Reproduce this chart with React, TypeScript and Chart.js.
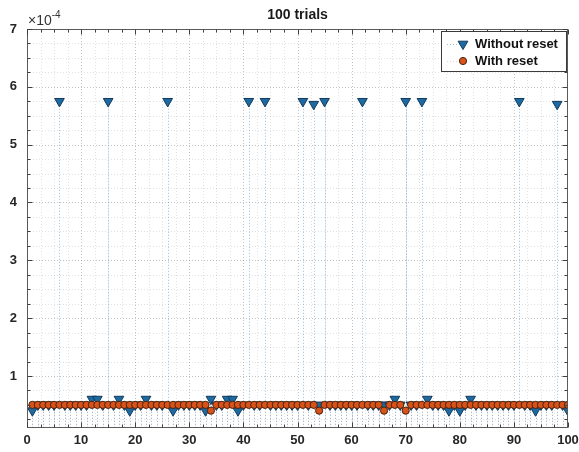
import React, { useEffect, useRef } from 'react';
import { Chart, registerables } from 'chart.js';
import { drawPoint } from 'chart.js/helpers';

Chart.register(...registerables);

// trial index 1..100
const trials: number[] = Array.from({ length: 100 }, (_, i) => i + 1);

// values in units of 1e-4
const withoutReset: number[] = [
  0.4, 0.5, 0.5, 0.5, 0.5, 5.75, 0.5, 0.5, 0.5, 0.5,
  0.5, 0.6, 0.6, 0.5, 5.75, 0.5, 0.6, 0.5, 0.4, 0.5,
  0.5, 0.6, 0.5, 0.5, 0.5, 5.75, 0.4, 0.5, 0.5, 0.5,
  0.5, 0.5, 0.4, 0.6, 0.5, 0.5, 0.6, 0.6, 0.4, 0.5,
  5.75, 0.5, 0.5, 5.75, 0.5, 0.5, 0.5, 0.5, 0.5, 0.5,
  5.75, 0.5, 5.7, 0.5, 5.75, 0.5, 0.5, 0.5, 0.5, 0.5,
  0.5, 5.75, 0.5, 0.5, 0.5, 0.5, 0.5, 0.6, 0.5, 5.75,
  0.5, 0.5, 5.75, 0.6, 0.5, 0.5, 0.5, 0.4, 0.5, 0.4,
  0.5, 0.6, 0.5, 0.5, 0.5, 0.5, 0.5, 0.5, 0.5, 0.5,
  5.75, 0.5, 0.5, 0.4, 0.5, 0.5, 0.5, 5.7, 0.5, 0.4,
];

const withReset: number[] = [
  0.5, 0.5, 0.5, 0.5, 0.5, 0.5, 0.5, 0.5, 0.5, 0.5,
  0.5, 0.5, 0.5, 0.5, 0.5, 0.5, 0.5, 0.5, 0.5, 0.5,
  0.5, 0.5, 0.5, 0.5, 0.5, 0.5, 0.5, 0.5, 0.5, 0.5,
  0.5, 0.5, 0.5, 0.4, 0.5, 0.5, 0.5, 0.5, 0.5, 0.5,
  0.5, 0.5, 0.5, 0.5, 0.5, 0.5, 0.5, 0.5, 0.5, 0.5,
  0.5, 0.5, 0.5, 0.4, 0.5, 0.5, 0.5, 0.5, 0.5, 0.5,
  0.5, 0.5, 0.5, 0.5, 0.5, 0.4, 0.5, 0.5, 0.5, 0.4,
  0.5, 0.5, 0.5, 0.5, 0.5, 0.5, 0.5, 0.5, 0.5, 0.5,
  0.5, 0.5, 0.5, 0.5, 0.5, 0.5, 0.5, 0.5, 0.5, 0.5,
  0.5, 0.5, 0.5, 0.5, 0.5, 0.5, 0.5, 0.5, 0.5, 0.5,
];

const xTickLabels: number[] = [0, 10, 20, 30, 40, 50, 60, 70, 80, 90, 100];
const yTickLabels: number[] = [1, 2, 3, 4, 5, 6, 7];
const seriesLabels: string[] = ['Without reset', 'With reset'];
const chartTitle = '100 trials';
const exponentBase = '\u00d710';
const exponentPower = '-4';
const stemBaseline = 0;

const X_MIN = 0, X_MAX = 100, X_MINOR = 2.5;
const Y_MIN = 0.1, Y_MAX = 7, Y_MINOR = 0.25;

const BLUE_FILL = '#1c6aa2';
const BLUE_EDGE = '#15395a';
const BLUE_STEM = 'rgba(80,150,210,0.6)';
const ORANGE_FILL = '#d95319';
const ORANGE_EDGE = '#4a2210';
const ORANGE_STEM = 'rgba(217,83,25,0.3)';
const FONT = '"Liberation Sans", Arial, sans-serif';

function minorTicks(min: number, max: number, step: number): number[] {
  const out: number[] = [];
  for (let k = Math.ceil(min / step); k * step <= max + 1e-9; k++) out.push(+(k * step).toFixed(4));
  return out;
}

const matlabPlugin = {
  id: 'matlabDecor',
  beforeDatasetsDraw(chart: any) {
    const { ctx, chartArea: a, scales } = chart;
    const xs = scales.x, ys = scales.y;
    ctx.save();
    ctx.beginPath();
    ctx.rect(a.left, a.top, a.right - a.left, a.bottom - a.top);
    ctx.clip();
    ctx.lineWidth = 1;
    ctx.setLineDash([1, 2]);
    // minor grid
    ctx.strokeStyle = 'rgba(60,70,90,0.16)';
    for (const v of minorTicks(X_MIN, X_MAX, X_MINOR)) {
      if (xTickLabels.includes(v)) continue;
      const px = Math.round(xs.getPixelForValue(v)) + 0.5;
      ctx.beginPath(); ctx.moveTo(px, a.top); ctx.lineTo(px, a.bottom); ctx.stroke();
    }
    for (const v of minorTicks(Y_MIN, Y_MAX, Y_MINOR)) {
      if (yTickLabels.includes(v)) continue;
      const py = Math.round(ys.getPixelForValue(v)) + 0.5;
      ctx.beginPath(); ctx.moveTo(a.left, py); ctx.lineTo(a.right, py); ctx.stroke();
    }
    // major grid
    ctx.strokeStyle = 'rgba(60,70,90,0.32)';
    for (const v of xTickLabels) {
      const px = Math.round(xs.getPixelForValue(v)) + 0.5;
      ctx.beginPath(); ctx.moveTo(px, a.top); ctx.lineTo(px, a.bottom); ctx.stroke();
    }
    for (const v of yTickLabels) {
      const py = Math.round(ys.getPixelForValue(v)) + 0.5;
      ctx.beginPath(); ctx.moveTo(a.left, py); ctx.lineTo(a.right, py); ctx.stroke();
    }
    // stems (dotted, from baseline to each point)
    const baseY = ys.getPixelForValue(stemBaseline);
    const stemColors = [BLUE_STEM, ORANGE_STEM];
    for (const di of [1, 0]) {
      const meta = chart.getDatasetMeta(di);
      ctx.strokeStyle = stemColors[di];
      ctx.setLineDash([1, 2]);
      for (const el of meta.data) {
        const px = Math.round(el.x) + 0.5;
        ctx.beginPath(); ctx.moveTo(px, baseY); ctx.lineTo(px, el.y); ctx.stroke();
      }
    }
    ctx.restore();
  },
  afterDatasetsDraw(chart: any) {
    const { ctx, chartArea: a, scales } = chart;
    const xs = scales.x, ys = scales.y;
    ctx.save();
    ctx.setLineDash([]);
    // box
    ctx.strokeStyle = '#5a5a5a';
    ctx.lineWidth = 1;
    const L = Math.round(a.left) + 0.5, R = Math.round(a.right) - 0.5;
    const T = Math.round(a.top) + 0.5, B = Math.round(a.bottom) - 0.5;
    ctx.strokeRect(L, T, R - L, B - T);
    // inward ticks
    ctx.strokeStyle = '#404040';
    for (const v of minorTicks(X_MIN, X_MAX, X_MINOR)) {
      const len = xTickLabels.includes(v) ? 5 : 3;
      const px = Math.round(xs.getPixelForValue(v)) + 0.5;
      ctx.beginPath();
      ctx.moveTo(px, B); ctx.lineTo(px, B - len);
      ctx.moveTo(px, T); ctx.lineTo(px, T + len);
      ctx.stroke();
    }
    for (const v of minorTicks(Y_MIN, Y_MAX, Y_MINOR)) {
      const len = yTickLabels.includes(v) ? 5 : 3;
      const py = Math.round(ys.getPixelForValue(v)) + 0.5;
      ctx.beginPath();
      ctx.moveTo(L, py); ctx.lineTo(L + len, py);
      ctx.moveTo(R, py); ctx.lineTo(R - len, py);
      ctx.stroke();
    }
    // title
    ctx.fillStyle = '#1a1a1a';
    ctx.font = `bold 14px ${FONT}`;
    ctx.textAlign = 'center';
    ctx.textBaseline = 'alphabetic';
    ctx.fillText(chartTitle, (a.left + a.right) / 2, 19);
    // exponent
    ctx.fillStyle = '#333';
    ctx.textAlign = 'left';
    ctx.font = `14px ${FONT}`;
    ctx.fillText(exponentBase, a.left + 1, 25);
    const w = ctx.measureText(exponentBase).width;
    ctx.font = `10px ${FONT}`;
    ctx.fillText(exponentPower, a.left + 1 + w, 18);
    // legend box
    const lx = 441, ly = 31, lw = 126, lh = 41;
    ctx.fillStyle = '#ffffff';
    ctx.fillRect(lx, ly, lw, lh);
    ctx.strokeStyle = '#3a3a3a';
    ctx.strokeRect(lx + 0.5, ly + 0.5, lw - 1, lh - 1);
    const rows = [ly + 13, ly + 30];
    const stemColors = [BLUE_STEM, ORANGE_STEM];
    for (let i = 0; i < 2; i++) {
      const ds = chart.data.datasets[i];
      const y = rows[i];
      ctx.save();
      ctx.setLineDash([1, 2]);
      ctx.strokeStyle = stemColors[i];
      ctx.beginPath(); ctx.moveTo(lx + 6, y + 0.5); ctx.lineTo(lx + 20, y + 0.5); ctx.stroke();
      ctx.setLineDash([]);
      ctx.fillStyle = ds.pointBackgroundColor;
      ctx.strokeStyle = ds.pointBorderColor;
      ctx.lineWidth = 1;
      drawPoint(ctx, { pointStyle: ds.pointStyle, rotation: ds.rotation || 0, radius: ds.pointRadius, borderWidth: 1 } as any, lx + 22, y);
      ctx.fillStyle = '#111';
      ctx.font = `bold 13px ${FONT}`;
      ctx.textAlign = 'left';
      ctx.textBaseline = 'middle';
      ctx.fillText(seriesLabels[i], lx + 34, y);
      ctx.restore();
    }
    ctx.restore();
  },
};

export default function App() {
  const ref = useRef<HTMLCanvasElement>(null);
  useEffect(() => {
    document.body.style.margin = '0';
    const canvas = ref.current!;
    const chart = new Chart(canvas, {
      type: 'line',
      data: {
        datasets: [
          {
            label: seriesLabels[0],
            data: trials.map((t, i) => ({ x: t, y: withoutReset[i] })),
            showLine: false,
            pointStyle: 'triangle',
            rotation: 180,
            pointRadius: 5.6,
            pointBackgroundColor: BLUE_FILL,
            pointBorderColor: BLUE_EDGE,
            pointBorderWidth: 1,
            order: 2,
          } as any,
          {
            label: seriesLabels[1],
            data: trials.map((t, i) => ({ x: t, y: withReset[i] })),
            showLine: false,
            pointStyle: 'circle',
            pointRadius: 3.6,
            pointBackgroundColor: ORANGE_FILL,
            pointBorderColor: ORANGE_EDGE,
            pointBorderWidth: 1,
            order: 1,
          } as any,
        ],
      },
      options: {
        responsive: false,
        animation: false,
        devicePixelRatio: 1,
        layout: { padding: { top: 29, right: 11, left: 0, bottom: 0 } },
        plugins: {
          legend: { display: false },
          title: { display: false },
          tooltip: { enabled: false },
        },
        scales: {
          x: {
            type: 'linear',
            min: X_MIN,
            max: X_MAX,
            afterBuildTicks: (s: any) => {
              s.ticks = minorTicks(X_MIN, X_MAX, X_MINOR).map((v) => ({ value: v }));
            },
            afterFit: (s: any) => {
              s.height = 24;
              s.paddingLeft = 0;
              s.paddingRight = 0;
            },
            ticks: {
              autoSkip: false,
              maxRotation: 0,
              padding: 5,
              color: '#262626',
              font: { family: FONT, size: 13, weight: 'bold' },
              callback: (v: any) => (xTickLabels.includes(Number(v)) ? String(v) : ''),
            },
            grid: { display: false, drawTicks: false },
            border: { display: false },
          },
          y: {
            type: 'linear',
            min: Y_MIN,
            max: Y_MAX,
            afterBuildTicks: (s: any) => {
              s.ticks = minorTicks(Y_MIN, Y_MAX, Y_MINOR).map((v) => ({ value: v }));
            },
            afterFit: (s: any) => {
              s.width = 27;
              s.paddingTop = 0;
              s.paddingBottom = 0;
            },
            ticks: {
              autoSkip: false,
              padding: 10,
              color: '#262626',
              font: { family: FONT, size: 13, weight: 'bold' },
              callback: (v: any) => (yTickLabels.includes(Number(v)) ? String(v) : ''),
            },
            grid: { display: false, drawTicks: false },
            border: { display: false },
          },
        },
      } as any,
      plugins: [matlabPlugin],
    });
    return () => chart.destroy();
  }, []);
  return (
    <div style={{ width: 579, height: 452, position: 'relative', background: '#fff' }}>
      <canvas ref={ref} width={579} height={452} style={{ display: 'block' }} />
    </div>
  );
}
